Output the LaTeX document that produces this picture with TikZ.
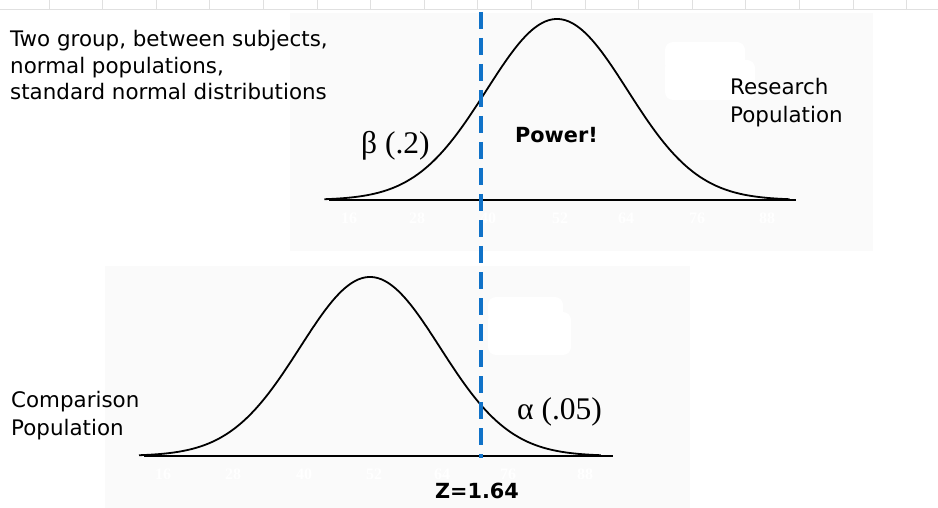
\documentclass[tikz,border=0pt]{standalone}
\usepackage{fontspec}
\newfontfamily\dvs{DejaVu Sans}
\newfontfamily\lsr{Liberation Serif}
\definecolor{bgg}{RGB}{250,250,250}
\definecolor{zblue}{RGB}{16,114,200}
\definecolor{rulegray}{RGB}{224,224,224}
\begin{document}
\begin{tikzpicture}[x=1pt,y=-1pt,
  lbl/.style={inner sep=0pt, anchor=base west, font=\dvs\fontsize{21.4}{25}\selectfont},
  boldlbl/.style={inner sep=0pt, font=\dvs\bfseries\fontsize{20.8}{24}\selectfont},
  grk/.style={inner sep=0pt, anchor=base west, font=\lsr\fontsize{31.5}{36}\selectfont},
  ticklbl/.style={inner sep=0pt, anchor=base, text=white, font=\lsr\bfseries\fontsize{16}{18}\selectfont},
  curve/.style={line width=1.8pt, black, line join=round},
  axisline/.style={line width=2.6pt, black},
  crit/.style={zblue, line width=3.6pt, dash pattern=on 17pt off 9pt},
  blob/.style={white, rounded corners=8pt}]
\useasboundingbox (0,0) rectangle (938,508);
% faint ruler strip
\draw[rulegray, line width=0.8pt] (0,9) -- (938,9);
\foreach \i in {0,...,16} \draw[rulegray, line width=0.8pt] ({49+53.6*\i},0) -- ({49+53.6*\i},9);
% backgrounds
\fill[bgg] (290,13) rectangle (873,251);
\fill[bgg] (105,266) rectangle (690,508);
% white blobs
\fill[blob] (665,42) rectangle (745,72);
\fill[blob] (665,60) rectangle (755,100);
\fill[blob] (488,297) rectangle (563,322);
\fill[blob] (488,312) rectangle (571,355);
% faint tick labels
\foreach \xx/\t in {349/16,417/28,488/40,560/52,626/64,697/76,767/88}
  \node[ticklbl] at (\xx,224) {\t};
\foreach \xx/\t in {163/16,233/28,304/40,374/52,442/64,508/76,585/88}
  \node[ticklbl] at (\xx,479) {\t};
% axes
\coordinate (tA) at (329,200); \coordinate (tB) at (796,200);
\coordinate (bA) at (144,456); \coordinate (bB) at (613,456);
\draw[axisline] (tA) -- (tB);
\draw[axisline] (bA) -- (bB);
% curves
\draw[curve] plot[domain=-3.3:3.3, samples=140, smooth] ({557+70.5*\x},{200-181*exp(-0.5*(\x)*(\x))});
\draw[curve] plot[domain=-3.3:3.3, samples=140, smooth] ({370+70*\x},{456-179*exp(-0.5*(\x)*(\x))});
% critical value line
\coordinate (ct) at (481,12); \coordinate (cb) at (481,458);
\draw[crit] (ct) -- (cb);
% texts
\node[lbl] (d1) at (10,47) {Two group, between subjects,};
\node[lbl] (d2) at (10,73.5) {normal populations,};
\node[lbl] (d3) at (10,100) {standard normal distributions};
\node[lbl] (r1) at (730,95) {Research};
\node[lbl] (r2) at (730,123) {Population};
\node[lbl] (c1) at (11,407) {Comparison};
\node[lbl] (c2) at (11,435) {Population};
\node[boldlbl, anchor=base west] (pw) at (515,143) {Power!};
\node[boldlbl, anchor=base] (z) at (477,498) {Z=1.64};
\node[grk] (beta) at (361,154) {β (.2)};
\node[grk] (alpha) at (517,419) {α (.05)};
\end{tikzpicture}
\end{document}
